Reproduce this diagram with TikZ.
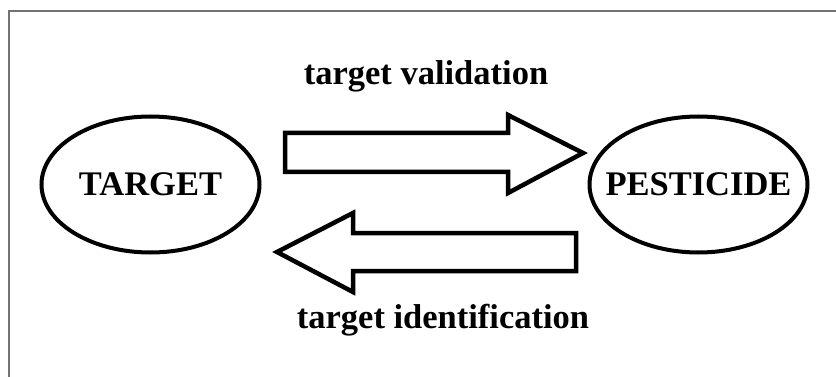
\documentclass[tikz,border=0pt]{standalone}
\usepackage{fontspec}
\setmainfont{Liberation Serif}
\usetikzlibrary{shapes.geometric}

\tikzset{
  lbl/.style={font=\fontsize{34.5}{36}\selectfont\bfseries, inner sep=0pt},
  bubble/.style={ellipse, draw=black, line width=4pt, minimum width=218pt,
                 minimum height=136pt, inner sep=0pt,
                 font=\fontsize{34.5}{36}\selectfont\bfseries},
  blockarrow/.style={draw=black, fill=white, line width=4.5pt, line join=miter},
  frame/.style={draw=black!55, line width=1.5pt}
}
% text of zero width, so the ellipse keeps its set size
\newcommand{\zw}[1]{\makebox[0pt]{#1}}

\begin{document}
\begin{tikzpicture}[x=1pt, y=-1pt]
  \useasboundingbox (0,0) rectangle (836,377);
  \fill[white] (0,0) rectangle (836,377);

  % open frame: top and left edges only
  \draw[frame] (836,11) -- (9,11) -- (9,377);

  % the two ellipses
  \node[bubble] (target) at (150.5,184.5) {\zw{TARGET}};
  \node[bubble] (pest) at (698.5,184.5) {\zw{PESTICIDE}};

  % block arrow pointing right (validation)
  \draw[blockarrow] (285,133) -- (508,133) -- (508,115) -- (583,153)
        -- (508,193) -- (508,172) -- (285,172) -- cycle;

  % block arrow pointing left (identification)
  \draw[blockarrow] (576,233) -- (353,233) -- (353,213) -- (277,252)
        -- (353,292) -- (353,271) -- (576,271) -- cycle;

  % arrow labels
  \node[lbl, anchor=base] (val) at (426,85) {target validation};
  \node[lbl, anchor=base] (ident) at (443,328) {target identification};
\end{tikzpicture}
\end{document}
